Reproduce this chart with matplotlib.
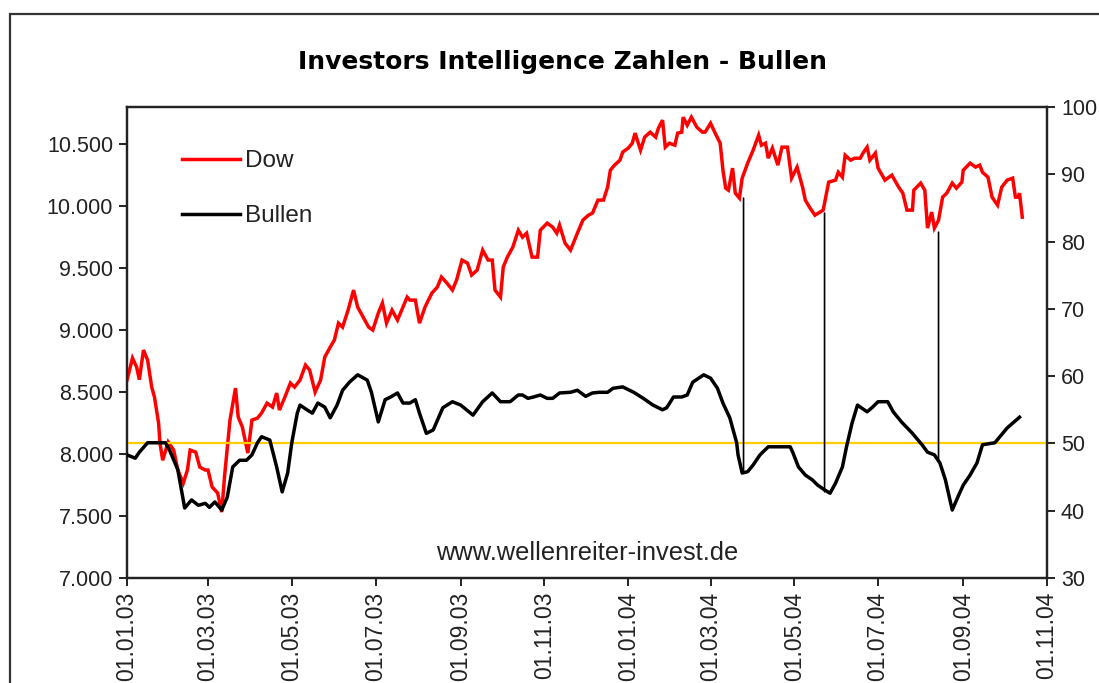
import numpy as np
import pandas as pd
import matplotlib
matplotlib.use("Agg")
import matplotlib.pyplot as plt
import matplotlib.dates as mdates
from matplotlib.patches import ConnectionPatch, Rectangle
from matplotlib.ticker import FuncFormatter, MultipleLocator
from matplotlib.lines import Line2D

# ---------------- data (days since 01.01.2003) ----------------
start_date = "2003-01-01"

dow_days = [0, 4, 7, 9, 12, 15, 18, 20, 23, 24, 26, 30, 34, 37, 41, 44, 46, 50, 53, 57,
            59, 62, 66, 69, 71, 75, 79, 81, 84, 88, 91, 95, 98, 102, 106, 109, 111, 115, 119, 122,
            126, 130, 133, 137, 141, 144, 148, 151, 154, 157, 161, 165, 168, 172, 176, 179, 183, 186, 189, 193,
            197, 200, 204, 206, 210, 213, 217, 222, 226, 229, 233, 237, 240, 244, 248, 251, 255, 259, 263, 266,
            268, 272, 274, 277, 281, 285, 288, 291, 295, 299, 301, 306, 310, 313, 315, 319, 323, 328, 332, 336,
            339, 343, 347, 350, 352, 355, 359, 361, 365, 368, 370, 374, 377, 381, 385, 387, 390, 392, 395, 399,
            401, 404, 405, 408, 411, 415, 419, 421, 425, 428, 432, 434, 436, 438, 441, 443, 446, 448, 452, 456,
            460, 462, 465, 467, 470, 474, 477, 481, 484, 488, 492, 494, 497, 501, 507, 511, 516, 518, 521, 523,
            527, 530, 534, 536, 539, 541, 545, 547, 552, 557, 562, 565, 568, 572, 573, 578, 581, 583, 586, 588,
            591, 594, 597, 601, 604, 608, 609, 614, 618, 621, 623, 627, 630, 634, 637, 641, 645, 647, 649, 650,
            652]
dow_values = [8597, 8774, 8702, 8600, 8839, 8758, 8540, 8460, 8250, 8089, 7950, 8097, 8032, 7871, 7766, 7871, 8032, 8016, 7895, 7871,
              7871, 7734, 7686, 7532, 7815, 8274, 8532, 8298, 8218, 8008, 8274, 8290, 8331, 8411, 8379, 8492, 8355, 8460, 8573, 8540,
              8597, 8718, 8678, 8500, 8597, 8782, 8863, 8919, 9056, 9024, 9161, 9323, 9185, 9105, 9024, 9000, 9137, 9218, 9056, 9161,
              9081, 9161, 9266, 9242, 9242, 9056, 9185, 9298, 9347, 9428, 9379, 9323, 9403, 9565, 9540, 9444, 9484, 9645, 9565, 9565,
              9323, 9266, 9508, 9589, 9670, 9806, 9750, 9782, 9589, 9589, 9806, 9863, 9831, 9782, 9847, 9702, 9645, 9782, 9887, 9927,
              9944, 10049, 10049, 10153, 10290, 10331, 10371, 10436, 10468, 10508, 10589, 10452, 10557, 10597, 10557, 10629, 10694, 10476, 10508, 10492,
              10589, 10597, 10718, 10653, 10718, 10637, 10597, 10597, 10669, 10597, 10508, 10290, 10145, 10129, 10307, 10105, 10065, 10226, 10347, 10452,
              10573, 10492, 10508, 10387, 10468, 10331, 10476, 10476, 10226, 10315, 10153, 10049, 9992, 9927, 9968, 10194, 10210, 10274, 10234, 10411,
              10371, 10387, 10387, 10428, 10476, 10371, 10428, 10307, 10210, 10250, 10153, 10105, 9968, 9968, 10129, 10186, 10129, 9823, 9952, 9823,
              9887, 10073, 10105, 10186, 10145, 10194, 10290, 10347, 10315, 10331, 10274, 10234, 10073, 10008, 10153, 10210, 10226, 10073, 10073, 10105,
              9911]

bull_days = [0, 6, 9, 15, 28, 31, 37, 42, 47, 52, 57, 60, 64, 69, 73, 77, 82, 87, 91, 95,
             98, 104, 109, 113, 117, 120, 124, 126, 131, 135, 139, 144, 148, 153, 157, 162, 168, 175, 178, 183,
             188, 192, 197, 201, 206, 210, 213, 218, 223, 230, 237, 243, 252, 259, 266, 272, 279, 285, 288, 292,
             296, 301, 306, 310, 315, 323, 328, 334, 339, 344, 350, 354, 361, 369, 376, 383, 390, 393, 398, 404,
             408, 412, 420, 425, 430, 434, 439, 441, 444, 445, 448, 452, 456, 461, 467, 483, 485, 489, 494, 499,
             503, 508, 512, 516, 521, 524, 528, 532, 534, 539, 543, 547, 554, 558, 564, 572, 579, 583, 588, 592,
             596, 601, 605, 609, 614, 619, 623, 632, 641, 650]
bull_values = [48.3, 47.8, 48.7, 50.1, 50.1, 49.0, 46.1, 40.4, 41.6, 40.8, 41.1, 40.5, 41.3, 40.1, 42.0, 46.5, 47.5, 47.5, 48.3, 50.1,
               51.0, 50.5, 46.5, 42.8, 45.6, 50.1, 54.5, 55.7, 55.0, 54.5, 56.0, 55.4, 53.8, 55.7, 57.9, 59.1, 60.2, 59.4, 57.6, 53.2,
               56.5, 56.9, 57.5, 56.0, 56.0, 56.5, 54.5, 51.5, 52.0, 55.3, 56.2, 55.7, 54.2, 56.2, 57.5, 56.2, 56.2, 57.2, 57.2, 56.7,
               56.9, 57.2, 56.7, 56.7, 57.5, 57.6, 57.9, 57.0, 57.5, 57.6, 57.6, 58.2, 58.4, 57.6, 56.7, 55.7, 55.0, 55.3, 56.9, 56.9,
               57.2, 59.1, 60.2, 59.7, 58.2, 56.0, 53.8, 52.3, 50.1, 48.3, 45.6, 45.8, 46.8, 48.3, 49.5, 49.5, 48.6, 46.5, 45.3, 44.6,
               43.8, 43.1, 42.6, 44.1, 46.5, 49.5, 53.0, 55.7, 55.4, 54.7, 55.4, 56.2, 56.2, 54.7, 53.2, 51.5, 49.8, 48.7, 48.3, 47.1,
               44.6, 40.1, 42.0, 43.8, 45.3, 47.1, 49.8, 50.1, 52.3, 53.9]

signal_days = [449, 508, 591]
signal_dow = [10065, 9944, 9790]
signal_bull = [45.6, 42.8, 47.5]

neutral_level = 50
x_ticks = ["2003-01-01", "2003-03-01", "2003-05-01", "2003-07-01", "2003-09-01", "2003-11-01",
           "2004-01-01", "2004-03-01", "2004-05-01", "2004-07-01", "2004-09-01", "2004-11-01"]

title = "Investors Intelligence Zahlen - Bullen"
watermark = "www.wellenreiter-invest.de"

# ---------------- figure ----------------
base = pd.Timestamp(start_date)
dow_dates = base + pd.to_timedelta(dow_days, unit="D")
bull_dates = base + pd.to_timedelta(bull_days, unit="D")
sig_dates = base + pd.to_timedelta(signal_days, unit="D")
tick_dates = pd.to_datetime(x_ticks)

W, H = 1099, 683
fig = plt.figure(figsize=(W / 100, H / 100), dpi=100, facecolor="white")
tick_font = "Liberation Sans"

# outer chart frame (cut by image edges)
fig.add_artist(Rectangle((10 / W, -0.2), 1.2, 1 - 14 / H + 0.2, transform=fig.transFigure,
                         fill=False, edgecolor="#333333", lw=1.6))

ax = fig.add_axes([127 / W, 1 - 578 / H, 920 / W, 471 / H])
ax2 = ax.twinx()

ax.plot(dow_dates, dow_values, color="#FF0000", lw=2.5, solid_joinstyle="miter", zorder=3)
ax.set_ylim(7000, 10800)
ax.set_xlim(tick_dates[0], tick_dates[-1])
ax.yaxis.set_major_locator(MultipleLocator(500))
ax.yaxis.set_major_formatter(FuncFormatter(lambda v, p: f"{int(v):,}".replace(",", ".")))

ax2.axhline(neutral_level, color="#FFCC00", lw=1.6, zorder=1)
ax2.plot(bull_dates, bull_values, color="black", lw=2.5, zorder=3)
ax2.set_ylim(30, 100)
ax2.yaxis.set_major_locator(MultipleLocator(10))

ax.set_xticks(tick_dates)
ax.xaxis.set_major_formatter(mdates.DateFormatter("%d.%m.%y"))

for a in (ax, ax2):
    for s in a.spines.values():
        s.set_linewidth(1.6)
        s.set_color("#222222")
    a.tick_params(axis="y", direction="out", length=6, width=1.4, colors="#222222",
                  labelsize=15.5, pad=4)
    a.tick_params(axis="x", direction="out", length=6, width=1.4, colors="#222222",
                  labelsize=16.5, pad=4, labelrotation=90)
    for lab in a.get_xticklabels() + a.get_yticklabels():
        lab.set_fontfamily(tick_font)
        lab.set_color("#222222")

# connectors between Bullen lows and Dow
for d, b, v in zip(sig_dates, signal_bull, signal_dow):
    con = ConnectionPatch(xyA=(mdates.date2num(d), b), coordsA=ax2.transData,
                          xyB=(mdates.date2num(d), v), coordsB=ax.transData,
                          color="black", lw=1.2, zorder=5)
    fig.add_artist(con)

fig.text(562 / W, 1 - 62 / H, title, ha="center", va="center", fontsize=18,
         fontweight="bold", family="DejaVu Sans", color="black")
fig.text(587 / W, 1 - 553 / H, watermark, ha="center", va="center", fontsize=18.3,
         family=tick_font, color="#222222")

handles = [Line2D([], [], color="#FF0000", lw=2.5), Line2D([], [], color="black", lw=2.5)]
leg = ax2.legend(handles, ["Dow", "Bullen"], loc="upper left",
                 bbox_to_anchor=(182 / W, 1 - 150 / H), bbox_transform=fig.transFigure,
                 frameon=False, borderpad=0, borderaxespad=0, handlelength=2.4,
                 handletextpad=0.2, labelspacing=1.36,
                 prop={"family": tick_font, "size": 17.5})
for t in leg.get_texts():
    t.set_color("#222222")

fig.savefig("out.png", dpi=100, facecolor="white")
